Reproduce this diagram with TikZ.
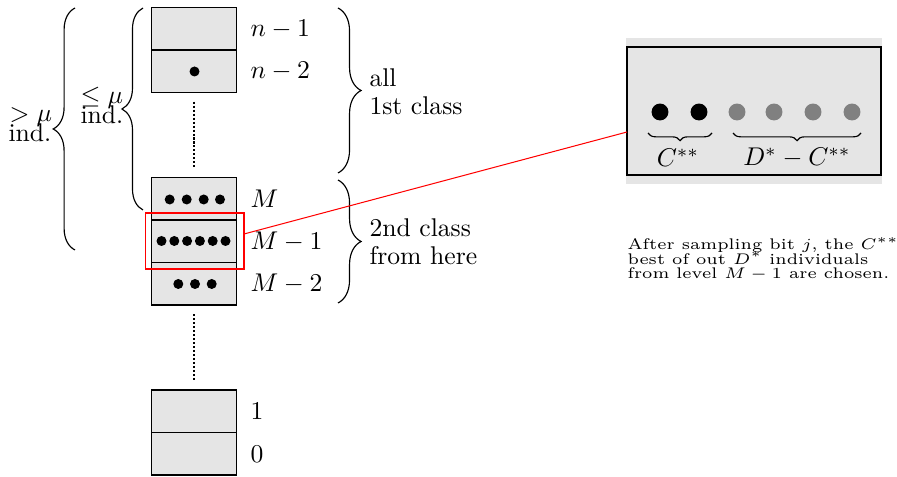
\documentclass[tikz,border=0pt]{standalone}
\usepackage{graphicx}
\usetikzlibrary{decorations.pathreplacing}
\newcommand\notefont{\fontsize{6}{5.5}\selectfont\lineskiplimit=-10pt\relax}
\begin{document}
\begin{tikzpicture}[x=0.39pt,y=-0.39pt,
  cell/.style={draw, fill=gray!20, line width=0.5pt, minimum width=33.15pt, minimum height=16.575pt, inner sep=0pt, outer sep=0pt},
  lvl/.style={anchor=west, inner sep=0pt},
  dotline/.style={line width=0.8pt, dash pattern=on 0.8pt off 0.75pt, shorten >=3.6pt, shorten <=3.6pt},
  rbrace/.style={decorate, decoration={brace, amplitude=#1}, line width=0.45pt},
  side/.style={anchor=west, inner sep=0pt, align=left, font=\fontsize{10}{10.8}\selectfont},
  stk/.style={anchor=base west, inner sep=0pt},
  note/.style={anchor=north west, inner sep=0pt}
]
\useasboundingbox (0,0) rectangle (897,477);

% top box
\node[cell] (c1) at (194.2,28.75) {};
\node[cell] (c2) at (194.2,71.25) {};
% middle box
\node[cell] (c3) at (194.2,198.75) {};
\node[cell] (c4) at (194.2,241.25) {};
\node[cell] (c5) at (194.2,283.75) {};
% bottom box
\node[cell] (c6) at (194.2,411.25) {};
\node[cell] (c7) at (194.2,453.75) {};

% dots in cells
\fill (194.5,71.5) circle[radius=1.95pt];
\foreach \x in {169.7,186.7,203.7,220} \fill (\x,199.5) circle[radius=1.95pt];
\foreach \x in {161.5,174.3,187.1,199.9,212.7,225.5} \fill (\x,241) circle[radius=1.95pt];
\foreach \x in {178.3,195,211.7} \fill (\x,284) circle[radius=1.95pt];

% dotted connections
\draw[dotline] (c2.south) -- (c3.north);
\draw[dotline] (c5.south) -- (c6.north);

% level labels
\node[lvl] (l1) at (250,29) {$n-1$};
\node[lvl] (l2) at (250,71.5) {$n-2$};
\node[lvl] (l3) at (250,199) {$M$};
\node[lvl] (l4) at (250,241.5) {$M-1$};
\node[lvl] (l5) at (250,284) {$M-2$};
\node[lvl] (l6) at (250,411.5) {$1$};
\node[lvl] (l7) at (250,454) {$0$};

% right braces
\coordinate (b1s) at (338,8);
\coordinate (b1e) at (338,173);
\coordinate (b2s) at (338,180);
\coordinate (b2e) at (338,303);
\draw[rbrace=9pt] (b1s) -- (b1e);
\draw[rbrace=9pt] (b2s) -- (b2e);
\node[side] (t1) at (369,92) {all\\1st class};
\node[side] (t2) at (369,242) {2nd class\\from here};

% left braces
\coordinate (b3s) at (143,210);
\coordinate (b3e) at (143,8);
\coordinate (b4s) at (75,250);
\coordinate (b4e) at (75,8);
\draw[rbrace=8.2pt] (b3s) -- (b3e);
\draw[rbrace=8.5pt] (b4s) -- (b4e);
\node[stk] (t3a) at (80,104) {$\leq\mu$};
\node[stk] (t3b) at (80,123.5) {ind.};
\node[stk] (t4a) at (9,122) {$>\mu$};
\node[stk] (t4b) at (8,142) {ind.};

% zoom rectangle
\node[draw=red, line width=0.4pt, minimum width=38.6pt, minimum height=21.84pt, inner sep=0pt] (zr) at (194.5,241) {};

% detail box
\fill[gray!20] (626,38) rectangle (882,184);
\node[draw, fill=gray!20, line width=0.5pt, minimum width=99.06pt, minimum height=49.92pt, inner sep=0pt] (bb) at (754,111) {};
\coordinate (zs) at (244,234);
\coordinate (ze) at (627,132);
\draw[red, line width=0.4pt] (zs) -- (ze);

\foreach \x in {660,699} \fill (\x,112) circle[radius=3.3pt];
\foreach \x in {737,774,813,852} \fill[gray] (\x,112) circle[radius=3.3pt];
\coordinate (u1s) at (712,133);
\coordinate (u1e) at (648,133);
\coordinate (u2s) at (861,133);
\coordinate (u2e) at (733,133);
\draw[rbrace=3pt] (u1s) -- (u1e);
\draw[rbrace=3pt] (u2s) -- (u2e);
\node (cl) at (678,158) {$C^{**}$};
\node (dl) at (797,158) {$D^*-C^{**}$};

\node[note] (nt) at (627,237) {\scalebox{1.1}[1]{\vbox{\notefont
  \hbox{After sampling bit $j$, the $C^{**}$}
  \hbox{best of out $D^*$ individuals}
  \hbox{from level $M-1$ are chosen.}}}};
\end{tikzpicture}
\end{document}
